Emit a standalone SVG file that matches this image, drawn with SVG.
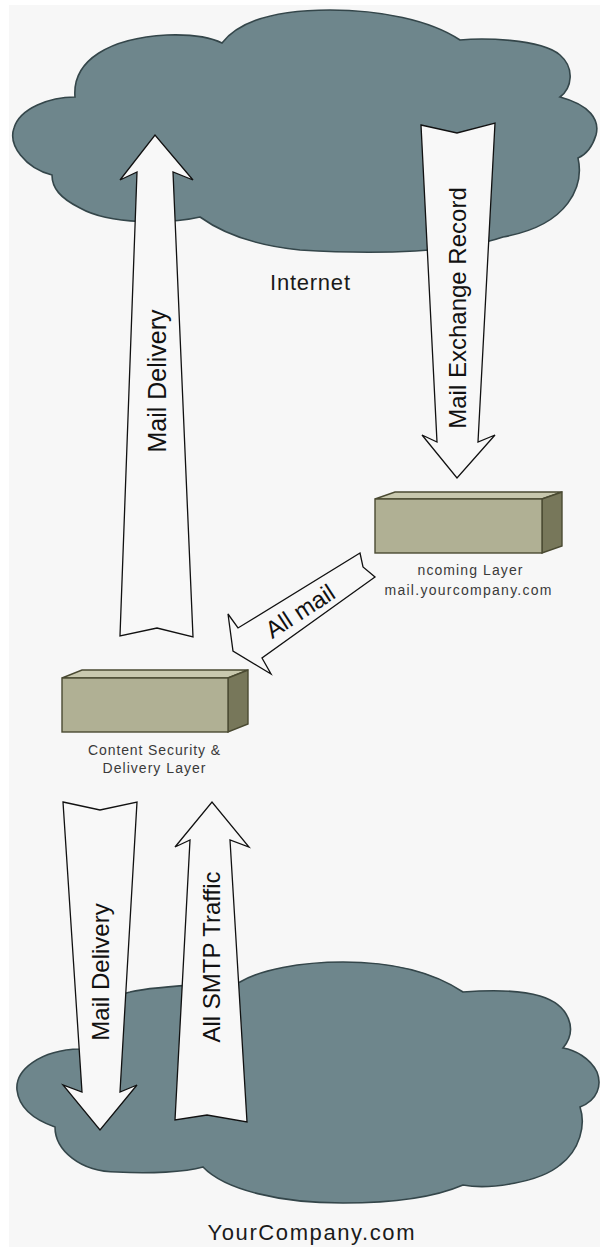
<svg xmlns="http://www.w3.org/2000/svg" width="600" height="1247" viewBox="0 0 600 1247">
<style>
.cloud{fill:#6e868c;stroke:#34464a;stroke-width:1.6}
.arrow{fill:#f8f8f8;stroke:#111;stroke-width:1.3;stroke-linejoin:miter}
.alabel{font-family:"Liberation Sans",Arial,sans-serif;font-size:24px;fill:#111;text-anchor:middle}
.lbl{font-family:"Liberation Sans",Arial,sans-serif;font-size:14px;fill:#3a3a3a;text-anchor:middle}
.big{font-family:"Liberation Sans",Arial,sans-serif;font-size:22px;fill:#1a1a1a;text-anchor:middle}
.front{fill:#b0b094;stroke:#4a4a32;stroke-width:1.4}
.topf{fill:#c8c8ae;stroke:#4a4a32;stroke-width:1.4}
.side{fill:#77775a;stroke:#4a4a32;stroke-width:1.4}
</style>
<rect x="0" y="0" width="600" height="1247" fill="#ffffff"/>
<rect x="9" y="5" width="591" height="1242" fill="#f7f7f7"/>

<g id="cloud-internet">
<path class="cloud" d="M75,97 C72,60 110,38 167,35 C195,34 212,38 222,43 C240,20 280,10 330,10 C380,10 430,20 460,40 C480,38 540,38 560,55 C575,68 572,88 560,97 C590,105 600,120 596,135 C592,148 585,155 578,158 C584,185 570,225 503,237 C460,252 380,255 300,250 C260,246 225,235 200,217 C170,224 110,225 80,208 C60,198 52,188 52,175 C25,168 8,145 14,128 C20,108 50,97 75,97 Z"/>
<text class="big" x="310" y="290" textLength="80" lengthAdjust="spacing">Internet</text>
</g>

<g id="cloud-company">
<path class="cloud" d="M80,1049 C40,1050 15,1070 17,1090 C19,1108 35,1120 55,1127 C55,1150 80,1172 117,1172 C150,1174 185,1172 203,1167 C225,1190 280,1203 343,1203 C400,1203 440,1195 463,1185 C490,1190 540,1182 560,1165 C580,1150 586,1125 580,1107 C598,1100 602,1085 597,1072 C590,1058 575,1050 563,1048 C578,1030 570,1005 540,996 C520,990 490,990 463,992 C430,970 390,962 343,962 C300,962 260,970 240,982 C210,985 160,985 130,992 C100,998 80,1020 80,1049 Z"/>
<text class="big" x="311" y="1240" textLength="207" lengthAdjust="spacing">YourCompany.com</text>
</g>

<g id="box-incoming">
<polygon class="topf" points="375,499 395,492 562,492 542,499"/>
<polygon class="side" points="542,499 562,492 562,546 542,553"/>
<rect class="front" x="375" y="499" width="167" height="54"/>
<text class="lbl" x="470" y="575" textLength="105" lengthAdjust="spacing">ncoming Layer</text>
<text class="lbl" x="468" y="595" textLength="167" lengthAdjust="spacing">mail.yourcompany.com</text>
</g>

<g id="box-content">
<polygon class="topf" points="62,678 82,670 248,670 228,678"/>
<polygon class="side" points="228,678 248,670 248,724 228,732"/>
<rect class="front" x="62" y="678" width="166" height="54"/>
<text class="lbl" x="154" y="755" textLength="132" lengthAdjust="spacing">Content Security &amp;</text>
<text class="lbl" x="154" y="773" textLength="103" lengthAdjust="spacing">Delivery Layer</text>
</g>

<g id="connectors">
<g id="arrow-mail-delivery-up">
<path class="arrow" d="M120,636 L137,172 L120,180 L155,135 L193,180 L173,172 L193,637 L157,628 Z"/>
<text class="alabel" transform="translate(157,381) rotate(-90)" y="9" style="font-size:25px">Mail Delivery</text>
</g>
<g id="arrow-mx">
<path class="arrow" d="M421,125 L457,133 L495,123 L478,442 L495,435 L457,478 L422,435 L437,442 Z"/>
<text class="alabel" transform="translate(457,308) rotate(-90)" y="8.5">Mail Exchange Record</text>
</g>
<g id="arrow-all-mail">
<path class="arrow" d="M360,553 L363,567 L375,577 L262,658 L271,674 L233,651 L228,614 L238,628 Z"/>
<text class="alabel" transform="translate(300,611) rotate(-33)" y="8.5">All mail</text>
</g>
<g id="arrow-mail-delivery-down">
<path class="arrow" d="M63,802 L100,810 L137,802 L120,1092 L137,1085 L100,1130 L63,1085 L82,1092 Z"/>
<text class="alabel" transform="translate(100,972) rotate(-90)" y="8.5">Mail Delivery</text>
</g>
<g id="arrow-smtp">
<path class="arrow" d="M175,1120 L190,840 L175,847 L212,802 L249,847 L230,840 L247,1122 L207,1115 Z"/>
<text class="alabel" transform="translate(211,957) rotate(-90)" y="8.5">All SMTP Traffic</text>
</g>
</g>
</svg>
